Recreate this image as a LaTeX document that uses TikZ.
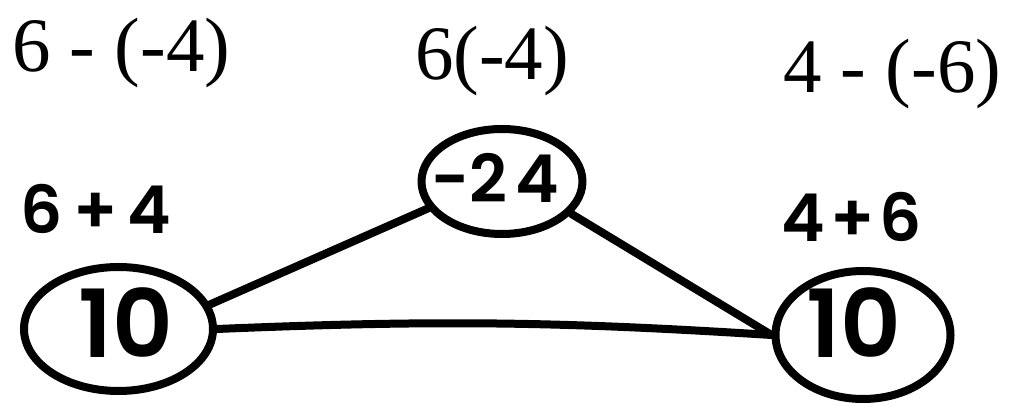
\documentclass[tikz,border=0pt]{standalone}
\usepackage{fontspec}
\newfontfamily\ser{Liberation Serif}
\newfontfamily\hand{Poppins}[BoldFont={Poppins SemiBold}]
\usetikzlibrary{shapes.geometric}
\begin{document}
\begin{tikzpicture}[x=1pt,y=1pt,
  stroke/.style={line width=8pt, line cap=round, line join=round},
  bubble/.style={stroke, draw, ellipse, inner sep=0pt},
  expr/.style={inner sep=0pt, anchor=base west, font=\ser\fontsize{77}{84}\selectfont},
  handtxt/.style={inner sep=0pt, font=\hand\bfseries\fontsize{66}{72}\selectfont},
  bigtxt/.style={inner sep=0pt, font=\hand\bfseries\fontsize{94}{100}\selectfont}]
\useasboundingbox (0,0) rectangle (1012,406);
% printed expressions
\node[expr] (e1) at (12,334) {6 - (-4)};
\node[expr] (e2) at (415,326) {6(-4)};
\node[expr] (e3) at (783,313) {4 - (-6)};
% bubbles
\node[bubble, minimum width=189pt, minimum height=124pt] (L) at (118.5,77) {};
\node[bubble, minimum width=161pt, minimum height=105pt] (M) at (502,224.5) {};
\node[bubble, minimum width=175pt, minimum height=128pt] (R) at (863,71) {};
% handwritten labels
\node[handtxt] (t1) at (96,197) {6\hspace{10pt}+\hspace{10pt}4};
\node[handtxt] (t2) at (852,189) {4\hspace{5pt}+\hspace{5pt}6};
\node[bigtxt] (n1) at (126,83) {10};
\node[bigtxt] (n2) at (854,83) {10};
\node[handtxt] (n3) at (495,228) {-2\hspace{8pt}4};
% connectors
\draw[stroke] (L.15) -- (M.200);
\draw[stroke] (L.east) to[bend left=3] (R.west);
\draw[stroke] (M.-25) -- (R.west);
\end{tikzpicture}
\end{document}
